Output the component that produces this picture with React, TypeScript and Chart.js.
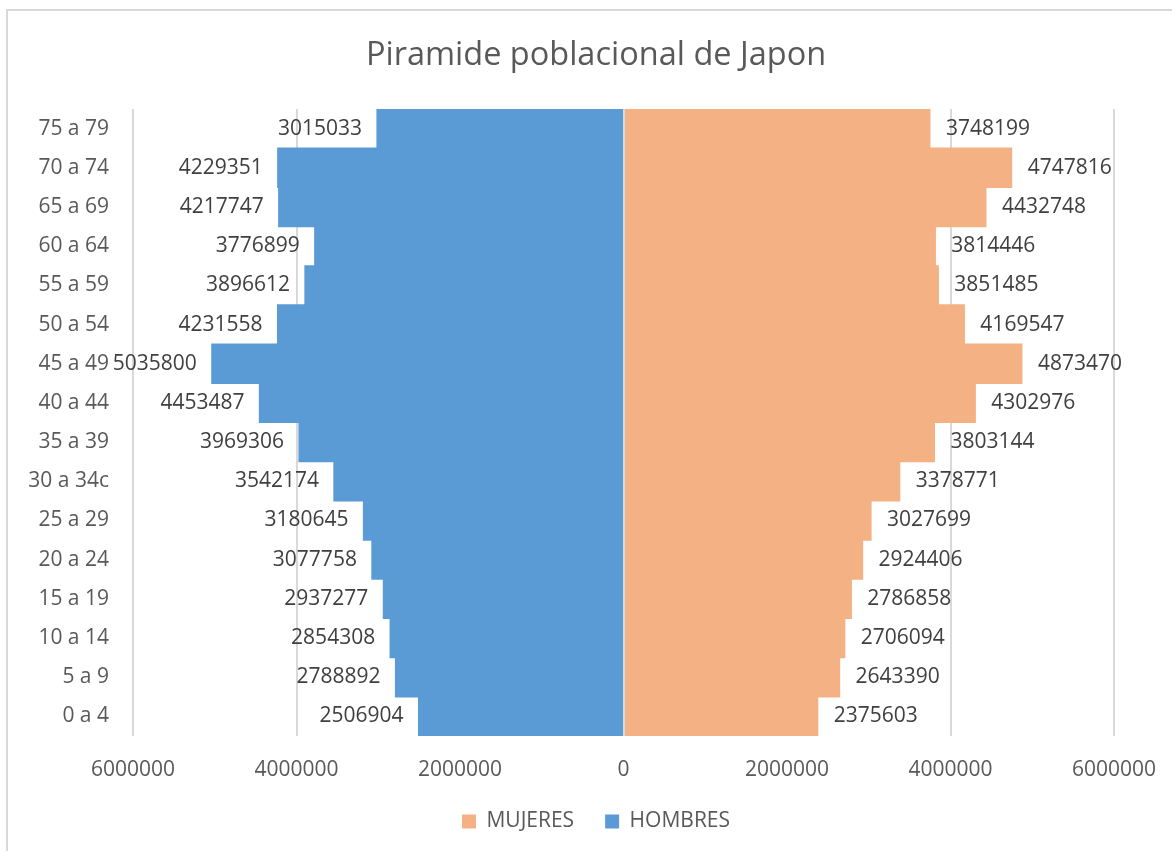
import React, { useEffect, useRef } from "react";
import { Chart, registerables } from "chart.js";

Chart.register(...registerables);

const AGE_GROUPS = [
  "0 a 4", "5 a 9", "10 a 14", "15 a 19", "20 a 24", "25 a 29", "30 a 34c", "35 a 39",
  "40 a 44", "45 a 49", "50 a 54", "55 a 59", "60 a 64", "65 a 69", "70 a 74", "75 a 79",
];
const HOMBRES = [
  2506904, 2788892, 2854308, 2937277, 3077758, 3180645, 3542174, 3969306,
  4453487, 5035800, 4231558, 3896612, 3776899, 4217747, 4229351, 3015033,
];
const MUJERES = [
  2375603, 2643390, 2706094, 2786858, 2924406, 3027699, 3378771, 3803144,
  4302976, 4873470, 4169547, 3851485, 3814446, 4432748, 4747816, 3748199,
];
const X_TICK_MIN = -6000000;
const X_TICK_MAX = 6000000;
const X_TICK_STEP = 2000000;

const FONT = "'Open Sans', 'Noto Sans', sans-serif";

const valueLabels = {
  id: "valueLabels",
  afterDatasetsDraw(chart: any) {
    const ctx = chart.ctx;
    ctx.save();
    ctx.font = `21px ${FONT}`;
    ctx.fillStyle = "#404040";
    ctx.textBaseline = "middle";
    chart.data.datasets.forEach((ds: any, di: number) => {
      const meta = chart.getDatasetMeta(di);
      meta.data.forEach((el: any, i: number) => {
        const v = ds.data[i];
        const txt = String(Math.abs(v));
        if (v < 0) {
          ctx.textAlign = "right";
          ctx.fillText(txt, el.x - 15, el.y);
        } else {
          ctx.textAlign = "left";
          ctx.fillText(txt, el.x + 16, el.y);
        }
      });
    });
    // zero axis line over the bars
    const xs = chart.scales.x;
    const x0 = Math.round(xs.getPixelForValue(0));
    ctx.strokeStyle = "#d9d9d9";
    ctx.lineWidth = 2;
    ctx.beginPath();
    ctx.moveTo(x0, chart.chartArea.top);
    ctx.lineTo(x0, chart.chartArea.bottom);
    ctx.stroke();
    ctx.restore();
  },
};

export default function App() {
  const ref = useRef<HTMLCanvasElement | null>(null);

  useEffect(() => {
    if (!ref.current) return;
    Chart.defaults.color = "#595959";
    const chart = new Chart(ref.current, {
      type: "bar",
      data: {
        labels: AGE_GROUPS,
        datasets: [
          {
            label: "MUJERES",
            data: MUJERES,
            backgroundColor: "#F4B183",
            borderWidth: 0,
            inflateAmount: 0.6,
            barPercentage: 1,
            categoryPercentage: 1,
          },
          {
            label: "HOMBRES",
            data: HOMBRES.map((v) => -v),
            backgroundColor: "#5B9BD5",
            borderWidth: 0,
            inflateAmount: 0.6,
            barPercentage: 1,
            categoryPercentage: 1,
          },
        ],
      },
      options: {
        indexAxis: "y",
        responsive: false,
        animation: false,
        devicePixelRatio: 1,
        layout: { padding: { left: 20, right: 0, top: 0, bottom: 9 } },
        scales: {
          x: {
            type: "linear",
            stacked: true,
            min: X_TICK_MIN,
            max: X_TICK_MAX,
            grid: { color: "#d9d9d9", lineWidth: 2, drawTicks: false },
            border: { display: false },
            ticks: {
              stepSize: X_TICK_STEP,
              padding: 21,
              color: "#595959",
              font: { family: FONT, size: 21 },
              callback: (v: any) => String(Math.abs(Number(v))),
            },
            afterFit: (s: any) => {
              s.height = 44;
              s.paddingLeft = 0;
              s.paddingRight = 58;
            },
          },
          y: {
            stacked: true,
            reverse: true,
            grid: { display: false, drawTicks: false },
            border: { display: false },
            ticks: {
              padding: 24,
              color: "#595959",
              font: { family: FONT, size: 21 },
            },
            afterFit: (s: any) => {
              s.width = 113;
              s.paddingTop = 0;
              s.paddingBottom = 0;
            },
          },
        },
        plugins: {
          title: {
            display: true,
            text: "Piramide poblacional de Japon",
            color: "#595959",
            font: { family: FONT, size: 32.5, weight: "normal" },
            padding: { top: 36.5, bottom: 33.5 },
          },
          legend: {
            display: true,
            position: "bottom",
            labels: {
              boxWidth: 14,
              boxHeight: 14,
              padding: 31,
              color: "#595959",
              font: { family: FONT, size: 21 },
            },
          },
          tooltip: { enabled: false },
        },
      },
      plugins: [valueLabels],
    });
    return () => chart.destroy();
  }, []);

  return (
    <div
      style={{
        position: "absolute",
        left: 0,
        top: 0,
        width: 1172,
        height: 851,
        overflow: "hidden",
        background: "#fff",
      }}
    >
      <div
        style={{
          position: "absolute",
          left: 6,
          top: 9,
          width: 1200,
          height: 900,
          border: "2px solid #d9d9d9",
          boxSizing: "border-box",
        }}
      />
      <canvas
        ref={ref}
        width={1172}
        height={851}
        style={{ position: "absolute", left: 0, top: 0, display: "block" }}
      />
    </div>
  );
}
